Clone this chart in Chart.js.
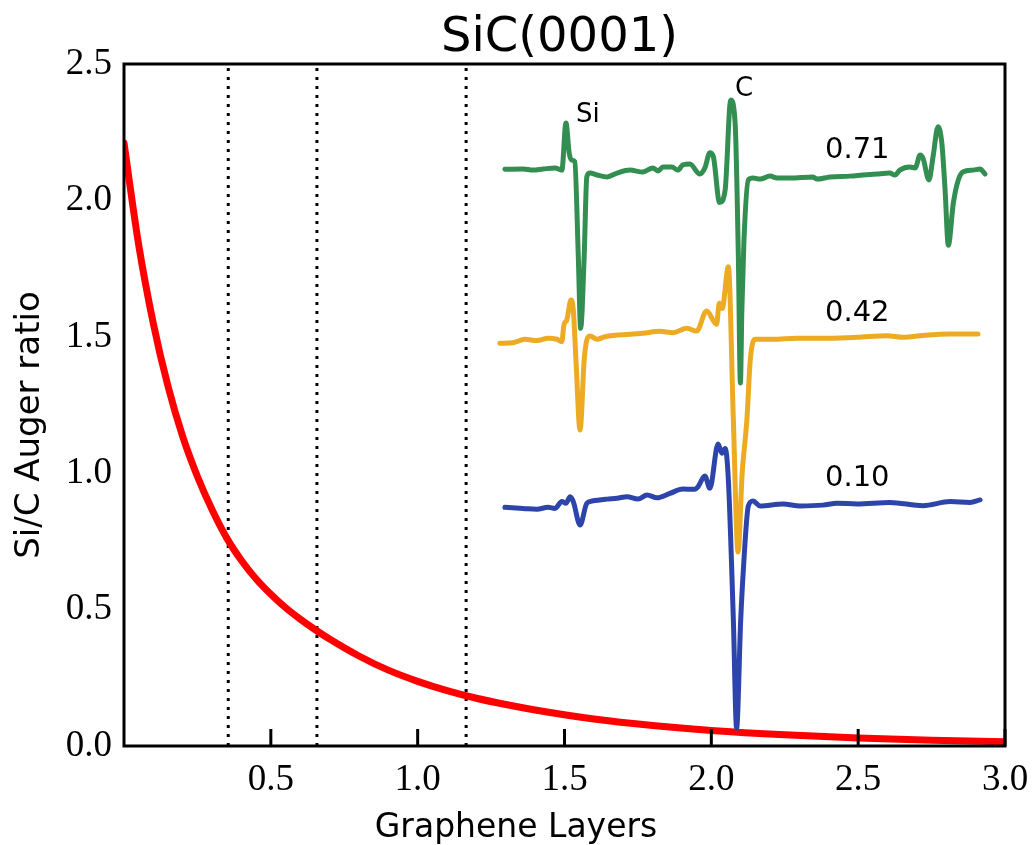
<!DOCTYPE html>
<html>
<head>
<meta charset="utf-8">
<script src="https://cdn.jsdelivr.net/npm/chart.js@4/dist/chart.umd.min.js"></script>
<style>
  html, body { margin: 0; padding: 0; background: #fff; }
  #wrap { width: 1035px; height: 845px; }
</style>
</head>
<body>
<div id="wrap"><canvas id="c" width="1035" height="845"></canvas></div>
<script>
// ---- Data ----
const redX = [0, 0.05, 0.1, 0.15, 0.2, 0.25, 0.3, 0.35, 0.4, 0.45, 0.5, 0.55, 0.6, 0.65, 0.7, 0.8, 0.9, 1.0, 1.1, 1.2, 1.3, 1.4, 1.6, 1.8, 2.0, 2.25, 2.5, 2.75, 3.0];
const redY = [2.21, 1.837, 1.548, 1.318, 1.134, 0.988, 0.866, 0.762, 0.680, 0.612, 0.556, 0.507, 0.465, 0.427, 0.392, 0.330, 0.278, 0.237, 0.203, 0.175, 0.152, 0.132, 0.099, 0.075, 0.057, 0.041, 0.0295, 0.0212, 0.0153];

const greenX = [1.297,1.359,1.393,1.427,1.468,1.491,1.505,1.516,1.524,1.535,1.547,1.555,1.567,1.576,1.587,1.611,1.645,1.679,1.723,1.767,1.801,1.818,1.835,1.866,1.886,1.903,1.927,1.961,1.978,1.995,2.007,2.028,2.047,2.066,2.081,2.092,2.099,2.104,2.111,2.126,2.142,2.166,2.200,2.224,2.268,2.346,2.360,2.404,2.472,2.516,2.564,2.608,2.625,2.642,2.676,2.694,2.711,2.721,2.741,2.755,2.772,2.785,2.796,2.807,2.824,2.841,2.858,2.891,2.915,2.932];
const greenY = [2.114,2.115,2.111,2.115,2.119,2.111,2.284,2.173,2.148,2.142,1.794,1.531,1.794,2.087,2.100,2.093,2.086,2.100,2.111,2.104,2.119,2.108,2.122,2.122,2.111,2.130,2.133,2.097,2.119,2.175,2.160,1.992,2.038,2.368,2.284,1.794,1.331,1.60,1.85,2.075,2.082,2.078,2.089,2.082,2.082,2.086,2.078,2.086,2.089,2.093,2.097,2.100,2.093,2.111,2.122,2.119,2.166,2.154,2.075,2.160,2.270,2.209,2.038,1.836,1.990,2.075,2.105,2.111,2.115,2.097];

const yellowX = [1.280,1.325,1.365,1.406,1.444,1.474,1.491,1.498,1.508,1.522,1.530,1.539,1.553,1.567,1.576,1.587,1.611,1.638,1.665,1.723,1.767,1.825,1.869,1.917,1.950,1.984,2.018,2.027,2.037,2.058,2.075,2.091,2.105,2.121,2.133,2.149,2.210,2.292,2.404,2.496,2.598,2.653,2.721,2.813,2.908];
const yellowY = [1.476,1.478,1.491,1.486,1.495,1.491,1.482,1.543,1.562,1.635,1.598,1.415,1.158,1.415,1.488,1.503,1.491,1.500,1.505,1.509,1.513,1.520,1.515,1.531,1.521,1.595,1.546,1.623,1.604,1.757,1.195,0.711,1.000,1.195,1.420,1.491,1.491,1.495,1.495,1.498,1.504,1.498,1.505,1.510,1.510];

const blueX = [1.297,1.359,1.406,1.444,1.468,1.491,1.505,1.519,1.530,1.553,1.576,1.594,1.645,1.679,1.713,1.750,1.781,1.815,1.859,1.903,1.944,1.955,1.978,1.995,2.023,2.036,2.047,2.058,2.075,2.086,2.100,2.109,2.126,2.142,2.166,2.244,2.302,2.380,2.428,2.496,2.608,2.721,2.813,2.881,2.915];
const blueY = [0.875,0.871,0.868,0.875,0.871,0.896,0.890,0.914,0.896,0.810,0.890,0.898,0.905,0.908,0.914,0.905,0.920,0.910,0.926,0.942,0.941,0.951,0.990,0.945,1.107,1.073,1.091,0.975,0.462,0.065,0.462,0.645,0.880,0.898,0.880,0.887,0.880,0.883,0.890,0.887,0.893,0.881,0.896,0.893,0.902];

const dottedX = [0.355, 0.657, 1.165];
const xTickValues = [0.5, 1.0, 1.5, 2.0, 2.5, 3.0];
const yTickValues = [0.0, 0.5, 1.0, 1.5, 2.0, 2.5];

const titleText = 'SiC(0001)';
const xLabel = 'Graphene Layers';
const yLabel = 'Si/C Auger ratio';
const annotTexts = ['Si', 'C', '0.71', '0.42', '0.10'];
const annotX = [1.539, 2.081, 2.387, 2.387, 2.387];
const annotY = [2.287, 2.383, 2.155, 1.558, 0.953];

// ---- build datasets ----
const pts = (xs, ys) => xs.map((x, i) => ({x: x, y: ys[i]}));
const datasets = [];
datasets.push({data: pts(greenX, greenY), borderColor: '#338e51', borderWidth: 5, order: 1});
datasets.push({data: pts(yellowX, yellowY), borderColor: '#ecab23', borderWidth: 5, order: 2});
datasets.push({data: pts(blueX, blueY), borderColor: '#2d45aa', borderWidth: 5, order: 3});
datasets.push({data: pts(redX, redY), borderColor: '#ff0000', borderWidth: 7, order: 4});
datasets.forEach(d => {
  d.pointRadius = 0; d.fill = false;
  d.cubicInterpolationMode = 'monotone';
  d.borderCapStyle = 'round'; d.borderJoinStyle = 'round';
});
dottedX.forEach(v => datasets.push({
  data: [{x: v, y: 0}, {x: v, y: 2.5}], borderColor: '#000', borderWidth: 3,
  borderDash: [3, 6], borderCapStyle: 'butt', order: 5, tension: 0, pointRadius: 0, fill: false
}));

const decor = {
  id: 'decor',
  afterDraw(chart) {
    const ctx = chart.ctx, a = chart.chartArea;
    const xs = chart.scales.x, ys = chart.scales.y;
    ctx.save();
    // spines
    ctx.strokeStyle = '#000'; ctx.lineWidth = 3;
    ctx.strokeRect(a.left, a.top, a.right - a.left, a.bottom - a.top);
    // inward ticks on the bottom axis
    xs.ticks.forEach(t => {
      const px = xs.getPixelForValue(t.value);
      ctx.beginPath(); ctx.moveTo(px, a.bottom); ctx.lineTo(px, a.bottom - 17); ctx.stroke();
    });
    // title
    ctx.fillStyle = '#000';
    ctx.textBaseline = 'alphabetic';
    ctx.textAlign = 'center';
    ctx.font = '48px "DejaVu Sans"';
    ctx.fillText(titleText, (a.left + a.right) / 2 - 5, a.top - 13);
    // x label
    ctx.font = '33px "DejaVu Sans"';
    ctx.fillText(xLabel, 516, 837);
    // y label
    ctx.save();
    ctx.translate(39, 425);
    ctx.rotate(-Math.PI / 2);
    ctx.font = '34px "DejaVu Sans"';
    ctx.fillText(yLabel, 0, 0);
    ctx.restore();
    // annotations
    ctx.textAlign = 'left';
    annotTexts.forEach((t, i) => {
      ctx.font = (i < 2 ? '26px' : '29px') + ' "DejaVu Sans"';
      ctx.fillText(t, xs.getPixelForValue(annotX[i]), ys.getPixelForValue(annotY[i]));
    });
    ctx.restore();
  }
};

new Chart(document.getElementById('c'), {
  type: 'line',
  data: {datasets: datasets},
  options: {
    responsive: false,
    animation: false,
    devicePixelRatio: 1,
    layout: {padding: {left: 0, right: 30, top: 64, bottom: 0}},
    plugins: {legend: {display: false}, tooltip: {enabled: false}, title: {display: false}},
    scales: {
      x: {
        type: 'linear', min: 0, max: 3,
        afterBuildTicks: s => { s.ticks = xTickValues.map(v => ({value: v})); },
        afterFit: s => { s.height = 99; s.paddingLeft = 0; s.paddingRight = 0; },
        grid: {display: false, drawTicks: false},
        border: {display: false},
        ticks: {
          autoSkip: false, maxRotation: 0, padding: 12, color: '#000',
          font: {family: '"Liberation Serif"', size: 37},
          callback: v => Number(v).toFixed(1)
        }
      },
      y: {
        type: 'linear', min: 0, max: 2.5,
        afterBuildTicks: s => { s.ticks = yTickValues.map(v => ({value: v})); },
        afterFit: s => { s.width = 124; s.paddingTop = 0; s.paddingBottom = 0; },
        grid: {display: false, drawTicks: false},
        border: {display: false},
        ticks: {
          autoSkip: false, padding: 12, color: '#000',
          font: {family: '"Liberation Serif"', size: 37},
          callback: v => Number(v).toFixed(1)
        }
      }
    }
  },
  plugins: [decor]
});
</script>
</body>
</html>
